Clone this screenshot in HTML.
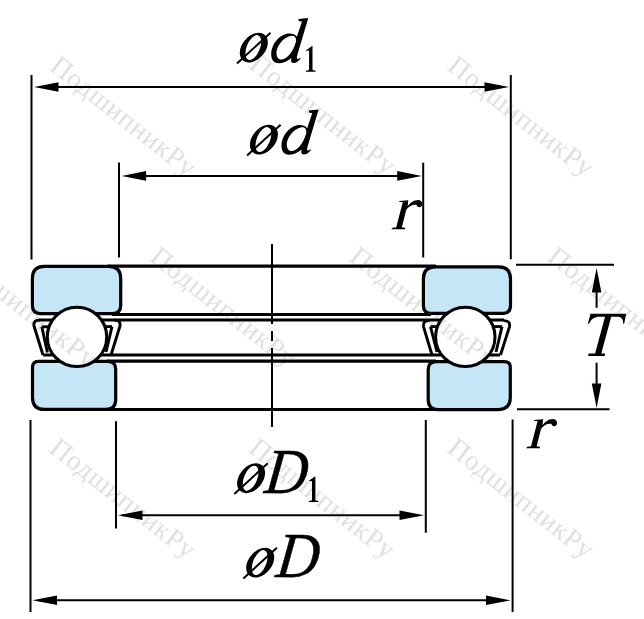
<!DOCTYPE html>
<html><head><meta charset="utf-8">
<style>
html,body{margin:0;padding:0;background:#fff;}
body{width:644px;height:619px;overflow:hidden;}
svg{display:block;}
</style></head>
<body>
<svg width="644" height="619" viewBox="0 0 644 619">
<rect width="644" height="619" fill="#fff"/>
<!-- cage -->
<g fill="none" stroke="#000" stroke-width="2.9" stroke-linejoin="round">
  <path d="M39 320 L504 320"/>
  <path d="M43 355 L500 355"/>
  <path d="M40 320 C35.5 320 33.3 321.8 34 326 L43 355"/>
  <path d="M114 320 C118.5 320 120.7 321.8 120 326 L111 355"/>
  <path d="M41.8 326.8 L47.4 352.5"/>
  <path d="M41.8 326.8 L60 326.8"/>
  <path d="M112 326.6 L106 352"/>
  <path d="M95 326.6 L112 326.6"/>
  <path d="M429.5 320.6 C425 320.6 422.8 322.4 423.5 326.6 L432 355"/>
  <path d="M503.5 320.6 C508 320.6 510.2 322.4 509.5 326.6 L500.5 355"/>
  <path d="M430.5 326.6 L437 352"/>
  <path d="M430.5 326.6 L450 326.6"/>
  <path d="M502 326.6 L496 352"/>
  <path d="M485 326.6 L502 326.6"/>
</g>
<!-- rings -->
<g fill="#c5e6f7" stroke="#000" stroke-width="3.2">
  <path d="M44.4 266.3 H108.7 Q120.7 266.3 120.7 278.3 V305.6 Q120.7 313.6 112.7 313.6 H40.4 Q32.4 313.6 32.4 305.6 V278.3 Q32.4 266.3 44.4 266.3 Z"/>
  <path d="M435.4 266.8 H498.5 Q510.5 266.8 510.5 278.8 V305.4 Q510.5 313.4 502.5 313.4 H431.4 Q423.4 313.4 423.4 305.4 V278.8 Q423.4 266.8 435.4 266.8 Z"/>
  <path d="M38.5 361.3 H107.7 Q115.7 361.3 115.7 369.3 V399.4 Q115.7 409.4 105.7 409.4 H44.5 Q32.5 409.4 32.5 397.4 V367.3 Q32.5 361.3 38.5 361.3 Z"/>
  <path d="M436.2 361.6 H504.3 Q510.3 361.6 510.3 367.6 V397.6 Q510.3 409.6 498.3 409.6 H438.2 Q428.2 409.6 428.2 399.6 V369.6 Q428.2 361.6 436.2 361.6 Z"/>
</g>
<g fill="none" stroke="#000" stroke-width="3.2">
  <path d="M108 266.2 H436"/>
  <path d="M112 314.5 H431"/>
  <path d="M107 361.2 H436"/>
  <path d="M105 409.5 H438"/>
</g>
<g fill="#fff" stroke="#000" stroke-width="3">
  <circle cx="77" cy="336.9" r="29.7"/>
  <circle cx="465.3" cy="336.9" r="29.7"/>
</g>
<g stroke="#000" stroke-width="2">
  <path d="M272 244 V324 M272 331 V341 M272 348 V427"/>
</g>
<g stroke="#000" stroke-width="2" fill="none">
  <path d="M31.5 75 V259.5 M510.8 75 V259.3"/>
  <path d="M40 87 H500"/>
  <path d="M119 162.6 V257.6 M423.2 162.7 V257.4"/>
  <path d="M128 175.9 H415"/>
  <path d="M116 421.2 V528.5 M425.8 420 V532.7"/>
  <path d="M122 515.3 H419"/>
  <path d="M30.5 420 V612 M512.6 419.4 V612"/>
  <path d="M38 600.3 H504"/>
  <path d="M516 264.8 H614 M517 409.3 H609.5"/>
  <path d="M596.6 275 V307.7 M596.6 362.7 V400"/>
</g>
<g fill="#000">
  <polygon points="34,87 58.50,82.20 58.50,91.80"/>
  <polygon points="509,87 484.50,91.80 484.50,82.20"/>
  <polygon points="121.6,175.9 146.10,171.10 146.10,180.70"/>
  <polygon points="421.7,175.9 397.20,180.70 397.20,171.10"/>
  <polygon points="118,515.3 142.50,510.50 142.50,520.10"/>
  <polygon points="424,515.3 399.50,520.10 399.50,510.50"/>
  <polygon points="32.5,600.3 57.00,595.50 57.00,605.10"/>
  <polygon points="510.5,600.3 486.00,605.10 486.00,595.50"/>
  <polygon points="596.6,268 601.40,292.50 591.80,292.50"/>
  <polygon points="596.6,408 591.80,383.50 601.40,383.50"/>
</g>
<g>
<g transform="translate(233.9,28)"><ellipse cx="19.9" cy="19.6" rx="16.84" ry="11.6" transform="rotate(-50 19.9 19.6)"/><ellipse cx="19.4" cy="19.6" rx="13.2" ry="6.6" fill="#fff" transform="rotate(-67.7 19.4 19.6)"/><path d="M3.1,35.4 L36.6,4.7" stroke="#000" stroke-width="2"/></g>
<path transform="translate(267.7,14.5)" fill-rule="evenodd" d="M30.7,4.6 L40.6,3.5 L29.3,41.5 C28.9,43.4 29.3,44.6 30.3,44.6 C31,44.6 31.6,44.1 32.3,43.3 L33,43.9 C31,46.6 28.6,48.4 26,48.4 C23.9,48.4 23,47.3 23.3,45.5 L23.7,43.4 C19.6,46.8 14.9,48.7 10.8,48.7 C5.9,48.7 3.5,44.8 3.5,40 C3.5,29 12.5,18.9 21.8,18.9 C25,18.9 27.5,20 29.2,22.2 L34.3,6.9 L31.2,6.8 Z M24.8,21.2 C17,21.2 8.8,31 8.8,38.5 C8.8,42.5 10.5,45 13.4,45 C19,45 25,38 28.2,27.5 C28.9,24.5 27.6,21.2 24.8,21.2 Z"/>
<path transform="translate(298,40)" d="M14.5,6.1 L14.5,29.3 C14.5,30.1 15.3,30.4 17.6,30.6 L17.6,31.7 L7.9,31.7 L7.9,30.6 C10.3,30.4 11.1,30.1 11.1,29.3 L11.1,11.6 C11.1,10.6 10.6,10.4 9.4,10.7 L8.1,11.0 L7.9,10.4 L14.0,6.1 Z"/>
<g transform="translate(244,120)"><ellipse cx="19.9" cy="19.6" rx="16.84" ry="11.6" transform="rotate(-50 19.9 19.6)"/><ellipse cx="19.4" cy="19.6" rx="13.2" ry="6.6" fill="#fff" transform="rotate(-67.7 19.4 19.6)"/><path d="M3.1,35.4 L36.6,4.7" stroke="#000" stroke-width="2"/></g>
<path transform="translate(278,106)" fill-rule="evenodd" d="M30.7,4.6 L40.6,3.5 L29.3,41.5 C28.9,43.4 29.3,44.6 30.3,44.6 C31,44.6 31.6,44.1 32.3,43.3 L33,43.9 C31,46.6 28.6,48.4 26,48.4 C23.9,48.4 23,47.3 23.3,45.5 L23.7,43.4 C19.6,46.8 14.9,48.7 10.8,48.7 C5.9,48.7 3.5,44.8 3.5,40 C3.5,29 12.5,18.9 21.8,18.9 C25,18.9 27.5,20 29.2,22.2 L34.3,6.9 L31.2,6.8 Z M24.8,21.2 C17,21.2 8.8,31 8.8,38.5 C8.8,42.5 10.5,45 13.4,45 C19,45 25,38 28.2,27.5 C28.9,24.5 27.6,21.2 24.8,21.2 Z"/>
<path transform="translate(391.2,229.6) scale(1.0)" d="M0,-0.3 L14.2,-0.3 L13.4,-2.2 L10.6,-2.2 L15.0,-19.5 C17.5,-23.5 21.5,-25.5 25.3,-24.8 C26,-23 27.2,-22.4 28.2,-22.4 C30,-22.4 31,-23.8 31,-25.6 C31,-27.8 29.5,-29.5 26.8,-29.5 C22.5,-29.5 19,-26.5 16.5,-23.5 L17.1,-29.4 L8.0,-28.6 L8.2,-27.5 L11.6,-27.5 L5.0,-2.2 L1.8,-2.2 Z"/>
<path transform="translate(587.8,355.9)" d="M2.7,-42.2 L38.3,-42.2 L36.4,-32.2 L35.4,-32.2 C35.2,-36.5 34,-39.1 29.5,-39.1 L23.4,-39.1 L13.5,-2.3 L17.2,-2.3 L17,0 L0.5,0 L0.7,-2.3 L7.3,-2.3 L17.2,-39.1 L11.8,-39.1 C6.5,-39.1 3.8,-37 1.2,-32.2 L0,-32.2 Z"/>
<path transform="translate(526,448.6) scale(1.0)" d="M0,-0.3 L14.2,-0.3 L13.4,-2.2 L10.6,-2.2 L15.0,-19.5 C17.5,-23.5 21.5,-25.5 25.3,-24.8 C26,-23 27.2,-22.4 28.2,-22.4 C30,-22.4 31,-23.8 31,-25.6 C31,-27.8 29.5,-29.5 26.8,-29.5 C22.5,-29.5 19,-26.5 16.5,-23.5 L17.1,-29.4 L8.0,-28.6 L8.2,-27.5 L11.6,-27.5 L5.0,-2.2 L1.8,-2.2 Z"/>
<g transform="translate(231.2,458.6)"><ellipse cx="19.9" cy="19.6" rx="16.84" ry="11.6" transform="rotate(-50 19.9 19.6)"/><ellipse cx="19.4" cy="19.6" rx="13.2" ry="6.6" fill="#fff" transform="rotate(-67.7 19.4 19.6)"/><path d="M3.1,35.4 L36.6,4.7" stroke="#000" stroke-width="2"/></g>
<text transform="translate(263.5,492.6) skewX(-6.5) scale(0.92,1)" font-family="Liberation Serif" font-style="italic" font-size="64" stroke="#000" stroke-width="0.5">D</text>
<path transform="translate(300.9,470.4)" d="M14.5,6.1 L14.5,29.3 C14.5,30.1 15.3,30.4 17.6,30.6 L17.6,31.7 L7.9,31.7 L7.9,30.6 C10.3,30.4 11.1,30.1 11.1,29.3 L11.1,11.6 C11.1,10.6 10.6,10.4 9.4,10.7 L8.1,11.0 L7.9,10.4 L14.0,6.1 Z"/>
<g transform="translate(240.3,543)"><ellipse cx="19.9" cy="19.6" rx="16.84" ry="11.6" transform="rotate(-50 19.9 19.6)"/><ellipse cx="19.4" cy="19.6" rx="13.2" ry="6.6" fill="#fff" transform="rotate(-67.7 19.4 19.6)"/><path d="M3.1,35.4 L36.6,4.7" stroke="#000" stroke-width="2"/></g>
<text transform="translate(275,577.2) skewX(-6.5) scale(0.92,1)" font-family="Liberation Serif" font-style="italic" font-size="64" stroke="#000" stroke-width="0.5">D</text>
</g>
<g style="mix-blend-mode:darken" font-family="Liberation Serif" font-size="27.5" letter-spacing="0.7" fill="#e0e0e0">
<text transform="translate(48.4,69) rotate(38.1)">ПодшипникРу</text>
<text transform="translate(248,67) rotate(38.1)">ПодшипникРу</text>
<text transform="translate(446,69) rotate(38.1)">ПодшипникРу</text>
<text transform="translate(-51,259.8) rotate(38.1)">ПодшипникРу</text>
<text transform="translate(148.4,259.8) rotate(38.1)">ПодшипникРу</text>
<text transform="translate(348,259.8) rotate(38.1)">ПодшипникРу</text>
<text transform="translate(546,259.8) rotate(38.1)">ПодшипникРу</text>
<text transform="translate(48,451) rotate(38.1)">ПодшипникРу</text>
<text transform="translate(247.5,451) rotate(38.1)">ПодшипникРу</text>
<text transform="translate(446,451) rotate(38.1)">ПодшипникРу</text>
</g>
</svg>
</body></html>
